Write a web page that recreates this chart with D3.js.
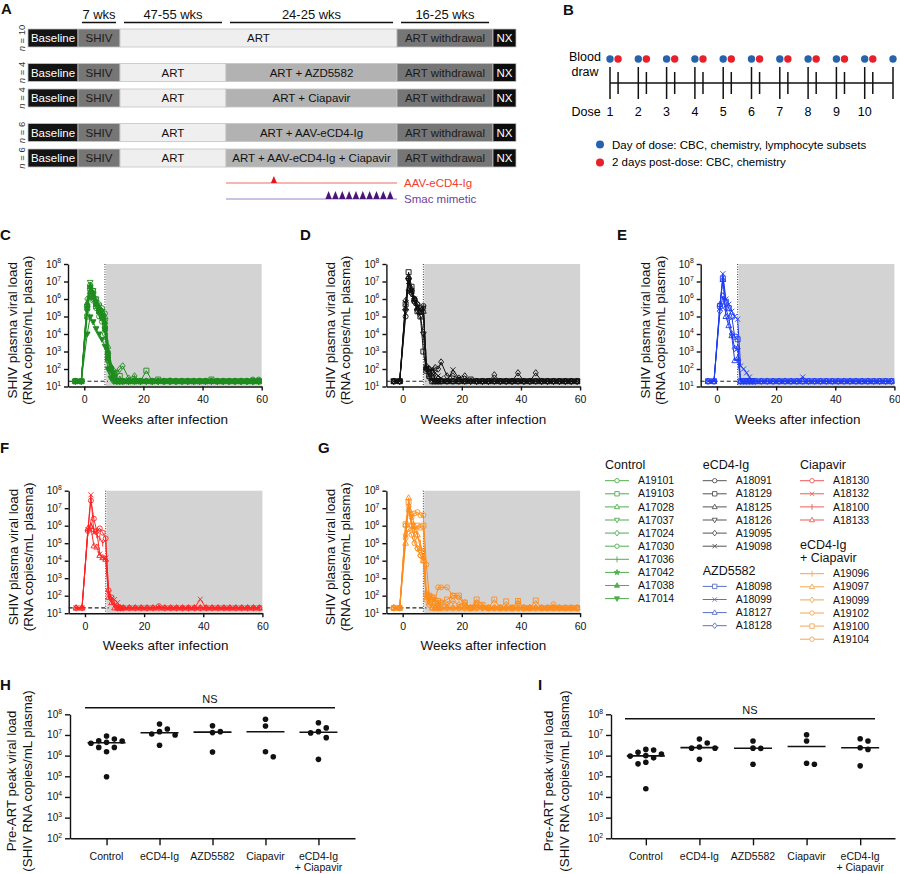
<!DOCTYPE html>
<html>
<head>
<meta charset="utf-8">
<script src="https://cdn.jsdelivr.net/npm/d3@7"></script>
<style>
body{margin:0;background:#fff;}
svg{display:block;font-family:"Liberation Sans",Arial,Helvetica,sans-serif;}
</style>
</head>
<body>
<svg id="fig" width="900" height="874"></svg>
<script>
// ---------- data: panel A (study design) ----------
const phaseLabels = ["7 wks", "47-55 wks", "24-25 wks", "16-25 wks"];
const rowN = [10, 4, 4, 6, 6];
const rowGroup = [0, 1, 1, 2, 2];
const rowTreatment = [null, "ART + AZD5582", "ART + Ciapavir", "ART + AAV-eCD4-Ig", "ART + AAV-eCD4-Ig + Ciapavir"];
const aavDoseWeeks = [7];
const smacDoseWeeks = [15, 16, 17, 18, 19, 20, 21, 22, 23, 24];

// ---------- data: panel B (dosing schedule, days) ----------
const doseNumbers = [1, 2, 3, 4, 5, 6, 7, 8, 9, 10];
const doseDays = [0, 7, 14, 21, 28, 35, 42, 49, 56, 63, 70];
const postDoseDays = [2, 9, 16, 23, 30, 37, 44, 51, 58, 65];

// ---------- data: panels C-G (viral load, RNA copies/mL) ----------
const weeks = [-3, -1, 1, 2, 3, 4, 5, 6, 7, 8, 9, 10, 11, 12, 13, 15, 17, 19, 21, 23, 25, 27, 29, 31, 33, 35, 37, 39, 41, 43, 45, 47, 49, 51, 53, 55, 57, 59];

const controlIds = ["A19101", "A19103", "A17028", "A17037", "A17024", "A17030", "A17036", "A17042", "A17038", "A17014"];
const controlMarkers = ["circle", "square", "triangle", "triangleDown", "diamond", "circle", "vline", "star", "triangleFilled", "triangleDownFilled"];
const controlVL = [
  [20,20, 3e5,6.3e6,3e6,1e6,5e5,3e5,1.5e5,800,120,40,20,20,20, 20,20,20,20,20,20,20,22, 20,20,20,20,20,20,20,20, 20,20,20,20,20,20,25],
  [20,20, 1e5,4e6,2e6,4e5,2e5,1e5,2e4,400,100,60,20,40,20, 20,20,20,80,20,25,20,20, 20,20,20,20,20,20,25,20, 20,20,20,20,20,20,20],
  [20,20, 5e5,5.1e6,1.5e6,6e5,3e5,2e5,1e5,2e3,150,60,20,20,20, 20,20,20,20,20,20,20,20, 20,20,20,20,20,20,20,20, 20,20,20,20,20,20,20],
  [20,20, 2e5,8.9e6,3e6,1e6,4e5,2e5,5e4,500,80,30,20,20,20, 20,20,20,20,20,20,20,20, 20,20,20,20,20,20,20,20, 20,20,20,20,20,20,20],
  [20,20, 1e6,2.5e6,1e6,5e5,3e5,1e5,3e4,1e3,100,80,60,100,150, 30,40,20,20,20,20,20,20, 20,20,20,20,20,20,20,20, 20,20,20,20,20,20,20],
  [20,20, 4e5,1.5e6,8e5,3e5,1e5,5e4,1e4,300,60,20,20,20,20, 20,20,20,20,20,20,20,20, 20,20,20,20,20,20,20,20, 20,20,20,20,20,25,20],
  [20,20, 8e5,4.4e6,2e6,8e5,4e5,2e5,1e5,3e3,200,50,20,20,20, 20,30,20,20,20,20,20,20, 20,20,20,20,20,20,20,20, 20,20,20,20,20,20,20],
  [20,20, 3e5,5.2e6,2e6,7e5,2e5,8e4,2e4,400,90,30,20,20,20, 20,20,20,20,20,20,20,20, 20,20,20,20,20,20,20,20, 20,20,20,20,20,20,20],
  [20,20, 6e5,2.5e6,1.2e6,5e5,2e5,1e5,5e4,1e3,150,40,20,20,20, 20,20,20,20,20,20,20,20, 20,20,20,20,20,20,20,20, 20,20,20,20,20,20,20],
  [20,20, 1e4,9.5e4,5e4,2e4,1e4,5e3,2e3,100,30,20,20,20,20, 20,20,20,20,20,20,20,20, 20,20,20,20,20,20,20,20, 20,20,20,20,20,20,20]
];

const ecd4Ids = ["A18091", "A18129", "A18125", "A18126", "A19095", "A19098"];
const ecd4Markers = ["circle", "square", "triangle", "triangleDown", "diamond", "times"];
const ecd4VL = [
  [20,20, 1e5,1.45e7,3e6,1e6,5e5,3e5,4e5,100,60,30,20,20,20, 20,20,20,20,20,20,20,20, 20,20,20,20,20,20,20,20, 20,20,20,20,20,20,20],
  [20,20, 5e5,3.4e7,5e6,8e5,2e5,1e5,1e3,80,40,20,20,20,20, 20,20,20,20,25,20,20,20, 20,20,20,20,20,20,20,20, 20,20,20,20,20,20,20],
  [20,20, 3e5,1.95e7,4e6,1e6,3e5,2e5,2e5,120,100,60,30,20,20, 20,20,20,20,20,20,20,20, 20,20,20,20,20,20,20,20, 20,20,20,20,20,20,20],
  [20,20, 2e5,1.12e7,2e6,6e5,2e5,1e5,1e4,100,30,20,20,20,20, 20,20,20,20,20,20,20,20, 20,20,20,20,20,20,20,20, 20,20,20,20,20,20,20],
  [20,20, 8e5,3.2e6,2e6,1e6,5e5,2e5,3e5,150,100,80,120,100,250, 40,40,30,40,20,20,20,20, 46,20,20,20,60,20,20,60, 20,20,20,20,20,20,20],
  [20,20, 6e5,1e7,3e6,1e6,4e5,2e5,3e5,120,80,100,60,40,30, 20,90,30,20,20,20,20,20, 20,20,20,20,20,20,20,20, 20,20,20,20,20,20,20]
];

const azdIds = ["A18098", "A18099", "A18127", "A18128"];
const azdMarkers = ["square", "times", "triangle", "diamond"];
const azdVL = [
  [20,20, 4e5,1.45e7,7e5,3e5,1e5,7e3,5e3,20,20,20,20,20,20, 20,20,20,20,20,20,20,20, 20,20,20,20,20,20,20,20, 20,20,20,20,20,20,20],
  [20,20, 3e5,2.8e7,1e6,5e5,2e5,1e5,7e4,150,100,60,35,20,20, 20,20,20,20,20,20,20,35, 20,20,20,20,20,20,20,20, 20,20,20,20,20,20,20],
  [20,20, 5e5,1.3e7,1e5,3e4,8e3,300,400,20,20,20,20,20,20, 20,20,20,20,20,20,20,20, 20,20,20,20,20,20,20,20, 20,20,20,20,20,20,20],
  [20,20, 2e5,1.5e6,3e5,8e4,1e4,1.5e3,1.5e3,20,20,20,20,20,20, 20,20,20,20,20,20,20,20, 20,20,20,20,20,20,20,20, 20,20,20,20,20,20,20]
];

const ciaIds = ["A18130", "A18132", "A18100", "A18133"];
const ciaMarkers = ["circle", "times", "vline", "triangle"];
const ciaVL = [
  [20,20, 5e5,2.7e7,2.5e6,5e5,7e5,4e5,1.9e5,200,80,40,20,20,20, 20,20,20,20,20,25,20,20, 20,20,20,20,20,20,20,20, 20,20,20,20,20,20,20],
  [20,20, 6e5,5.8e7,4e5,5e5,2.4e4,1.5e4,1.4e4,150,70,60,40,20,20, 20,20,20,20,20,20,20,20, 20,20,20,20,63,20,20,20, 20,20,20,20,20,20,20],
  [20,20, 4e5,1.5e6,5e5,3e5,2e5,1e5,1.5e5,100,50,30,20,20,20, 20,20,20,20,20,20,20,20, 20,20,20,20,20,20,20,20, 20,20,20,20,20,20,20],
  [20,20, 7e5,9e5,7e4,6e4,2e4,1.5e4,1.2e4,80,40,20,20,20,20, 20,20,20,20,20,20,20,20, 20,20,20,20,20,20,20,20, 20,20,20,20,20,20,20]
];

const comboIds = ["A19096", "A19097", "A19099", "A19102", "A19100", "A19104"];
const comboMarkers = ["vline", "triangle", "diamond", "circle", "square", "circle"];
const comboVL = [
  [20,20, 8e5,1.45e7,2e6,5e5,3e5,1e5,1.2e4,100,60,40,30,20,20, 20,20,20,20,20,20,20,20, 20,20,20,20,20,20,20,20, 20,20,20,20,20,20,20],
  [20,20, 1e5,3.9e7,5e6,1e6,3e5,5e4,1e4,80,40,20,20,20,20, 20,20,20,20,20,20,25,20, 20,20,20,20,20,20,20,20, 20,20,20,20,20,20,20],
  [20,20, 3e5,1.26e7,1e6,2e5,5e4,2e4,1.5e4,120,80,60,40,30,40, 30,50,30,40,20,30,20,20, 20,20,20,20,40,20,20,20, 20,20,20,20,20,20,20],
  [20,20, 1e6,7.4e6,3e6,5e6,6e6,4e6,4e6,6e3,100,80,60,300,300, 300,100,80,30,20,40,20,20, 20,20,20,20,20,20,20,20, 20,20,32,20,20,20,20],
  [20,20, 1.2e6,2.2e7,1e6,6e5,1e6,8e5,1e6,130,100,80,40,50,40, 60,100,100,40,20,60,30,20, 60,20,47,20,50,20,20,53, 20,20,20,20,20,20,20],
  [20,20, 2e5,6.6e5,3e5,1e5,5e4,2e4,1e4,60,30,20,20,20,20, 20,20,20,20,20,20,20,20, 20,20,20,20,20,20,20,20, 20,20,20,20,20,20,20]
];

// ---------- data: panels H, I (pre-ART peak viral load) ----------
const peakCats = [["Control"], ["eCD4-Ig"], ["AZD5582"], ["Ciapavir"], ["eCD4-Ig", "+ Ciapavir"]];
const peakH = [
  [6.3e6, 4.0e6, 5.1e6, 8.9e6, 2.5e6, 1.55e6, 9.5e4, 4.4e6, 5.2e6, 2.5e6],
  [1.45e7, 3.4e7, 1.95e7, 1.12e7, 3.2e6, 1.0e7],
  [1.45e7, 2.8e7, 1.3e7, 1.5e6],
  [5.8e7, 2.7e7, 8.9e5, 1.55e6],
  [3.9e7, 2.2e7, 1.45e7, 1.26e7, 7.4e6, 6.6e5]
];
const peakI = [
  [1.2e6, 1.86e6, 2.0e6, 1.45e6, 4.8e5, 4.0e5, 7.8e5, 2.5e4, 9.5e5, 1.0e6],
  [6.3e6, 4.1e6, 2.6e6, 2.3e6, 2.3e6, 6.6e5],
  [5.1e6, 2.24e6, 2.3e6, 3.8e5],
  [1.02e7, 5.1e6, 3.8e5, 4.3e5],
  [6.6e6, 5.1e6, 2.4e6, 2.0e6, 3.2e5]
];

// ---------- drawing ----------
const svg = d3.select("#fig");
svg.append("rect").attr("width", 900).attr("height", 874).attr("fill", "#fff");

function letter(t, x, y) {
  svg.append("text").attr("x", x).attr("y", y).attr("font-size", 15).attr("font-weight", "bold").attr("fill", "#111").text(t);
}

// ===== Panel A =====
letter("A", 1, 14);
const aEdges = [28, 78, 120, 226, 397, 493, 516];
const aStyle = {
  base: {fill: "#141414", text: "#fff"},
  shiv: {fill: "#767676", text: "#1c1c1c"},
  art: {fill: "#efefef", text: "#111"},
  trt: {fill: "#b2b2b2", text: "#111"},
  wd: {fill: "#767676", text: "#1c1c1c"},
  nx: {fill: "#0d0d0d", text: "#fff"}
};
phaseLabels.forEach((lab, i) => {
  const x1 = aEdges[i + 1] + 4, x2 = aEdges[i + 2] - 4;
  svg.append("text").attr("x", (x1 + x2) / 2).attr("y", 19).attr("text-anchor", "middle")
    .attr("font-size", 13).attr("fill", "#111").text(lab);
  svg.append("line").attr("x1", x1).attr("x2", x2).attr("y1", 22.5).attr("y2", 22.5)
    .attr("stroke", "#111").attr("stroke-width", 1.5);
});
rowN.forEach((n, i) => {
  const y = 29 + i * 25.5 + rowGroup[i] * 9, h = 18;
  const segs = rowTreatment[i] ? [
    ["base", 0, 1, "Baseline"], ["shiv", 1, 2, "SHIV"], ["art", 2, 3, "ART"],
    ["trt", 3, 4, rowTreatment[i]], ["wd", 4, 5, "ART withdrawal"], ["nx", 5, 6, "NX"]
  ] : [
    ["base", 0, 1, "Baseline"], ["shiv", 1, 2, "SHIV"], ["art", 2, 4, "ART"],
    ["wd", 4, 5, "ART withdrawal"], ["nx", 5, 6, "NX"]
  ];
  const g = svg.append("g");
  g.selectAll("rect").data(segs).enter().append("rect")
    .attr("x", d => aEdges[d[1]]).attr("y", y)
    .attr("width", d => aEdges[d[2]] - aEdges[d[1]]).attr("height", h)
    .attr("fill", d => aStyle[d[0]].fill).attr("stroke", "#c4c4c4").attr("stroke-width", 0.8);
  g.selectAll("text.seg").data(segs).enter().append("text").attr("class", "seg")
    .attr("x", d => (aEdges[d[1]] + aEdges[d[2]]) / 2).attr("y", y + h / 2).attr("dy", "0.36em")
    .attr("text-anchor", "middle").attr("font-size", 11.5)
    .attr("fill", d => aStyle[d[0]].text).text(d => d[3]);
  const t = g.append("text").attr("transform", `translate(25,${y + h / 2}) rotate(-90)`)
    .attr("text-anchor", "middle").attr("font-size", 9.5).attr("fill", "#333");
  t.append("tspan").attr("font-style", "italic").text("n");
  t.append("tspan").text(" = " + n);
});
// dosing annotation under panel A
const tx = d3.scaleLinear().domain([0, 25]).range([aEdges[3], aEdges[4]]);
svg.append("line").attr("x1", tx(0)).attr("x2", tx(25)).attr("y1", 183).attr("y2", 183)
  .attr("stroke", "#f06a6a").attr("stroke-width", 1.2);
svg.selectAll("path.aav").data(aavDoseWeeks).enter().append("path").attr("class", "aav")
  .attr("d", d => `M${tx(d) - 3},183L${tx(d)},176L${tx(d) + 3},183Z`).attr("fill", "#e8141c");
svg.append("text").attr("x", 404).attr("y", 187).attr("font-size", 11.5).attr("fill", "#f0402e").text("AAV-eCD4-Ig");
svg.append("line").attr("x1", tx(0)).attr("x2", tx(25)).attr("y1", 199).attr("y2", 199)
  .attr("stroke", "#9c83c8").attr("stroke-width", 1.2);
svg.selectAll("path.smac").data(smacDoseWeeks).enter().append("path").attr("class", "smac")
  .attr("d", d => `M${tx(d) - 3.2},199L${tx(d)},191L${tx(d) + 3.2},199Z`).attr("fill", "#4a1577");
svg.append("text").attr("x", 404).attr("y", 203).attr("font-size", 11.5).attr("fill", "#6b3fa0").text("Smac mimetic");

// ===== Panel B =====
letter("B", 563, 15);
const bx = d3.scaleLinear().domain([0, 70]).range([610, 893]);
svg.append("text").attr("x", 585).attr("y", 61).attr("text-anchor", "middle").attr("font-size", 12.5).text("Blood");
svg.append("text").attr("x", 585).attr("y", 76).attr("text-anchor", "middle").attr("font-size", 12.5).text("draw");
svg.append("text").attr("x", 586).attr("y", 116).attr("text-anchor", "middle").attr("font-size", 12.5).text("Dose");
svg.append("line").attr("x1", bx(0)).attr("x2", bx(70)).attr("y1", 83).attr("y2", 83).attr("stroke", "#111").attr("stroke-width", 1.5);
svg.selectAll("line.dt").data(doseDays).enter().append("line").attr("class", "dt")
  .attr("x1", d => bx(d)).attr("x2", d => bx(d)).attr("y1", 67).attr("y2", 99).attr("stroke", "#111").attr("stroke-width", 1.5);
svg.selectAll("line.pt").data(postDoseDays).enter().append("line").attr("class", "pt")
  .attr("x1", d => bx(d)).attr("x2", d => bx(d)).attr("y1", 72).attr("y2", 94).attr("stroke", "#111").attr("stroke-width", 1.5);
svg.selectAll("circle.bd").data(doseDays).enter().append("circle").attr("class", "bd")
  .attr("cx", d => bx(d)).attr("cy", 59).attr("r", 3.7).attr("fill", "#2563ad");
svg.selectAll("circle.rd").data(postDoseDays).enter().append("circle").attr("class", "rd")
  .attr("cx", d => bx(d)).attr("cy", 59).attr("r", 3.7).attr("fill", "#e8202a");
svg.selectAll("text.dn").data(doseNumbers).enter().append("text").attr("class", "dn")
  .attr("x", (d, i) => bx(doseDays[i])).attr("y", 116).attr("text-anchor", "middle").attr("font-size", 12.5).text(d => d);
svg.append("circle").attr("cx", 600).attr("cy", 144.5).attr("r", 4).attr("fill", "#2563ad");
svg.append("text").attr("x", 612).attr("y", 149).attr("font-size", 11.5).text("Day of dose: CBC, chemistry, lymphocyte subsets");
svg.append("circle").attr("cx", 600).attr("cy", 162.5).attr("r", 4).attr("fill", "#e8202a");
svg.append("text").attr("x", 612).attr("y", 166).attr("font-size", 11.5).text("2 days post-dose: CBC, chemistry");

// ===== markers =====
function markerPath(type, r) {
  const p = d3.path();
  if (type === "circle") { p.moveTo(r, 0); p.arc(0, 0, r, 0, 2 * Math.PI); }
  else if (type === "square") { p.rect(-r, -r, 2 * r, 2 * r); }
  else if (type === "triangle" || type === "triangleFilled") {
    p.moveTo(0, -r * 1.25); p.lineTo(r * 1.15, r * 0.8); p.lineTo(-r * 1.15, r * 0.8); p.closePath();
  } else if (type === "triangleDown" || type === "triangleDownFilled") {
    p.moveTo(0, r * 1.25); p.lineTo(r * 1.15, -r * 0.8); p.lineTo(-r * 1.15, -r * 0.8); p.closePath();
  } else if (type === "diamond") {
    p.moveTo(0, -r * 1.3); p.lineTo(r, 0); p.lineTo(0, r * 1.3); p.lineTo(-r, 0); p.closePath();
  } else if (type === "times") {
    p.moveTo(-r, -r); p.lineTo(r, r); p.moveTo(r, -r); p.lineTo(-r, r);
  } else if (type === "vline") {
    p.moveTo(0, -r * 1.35); p.lineTo(0, r * 1.35);
  } else if (type === "star") {
    for (let i = 0; i < 10; i++) {
      const a = -Math.PI / 2 + i * Math.PI / 5, rr = i % 2 ? r * 0.55 : r * 1.3;
      if (i === 0) p.moveTo(rr * Math.cos(a), rr * Math.sin(a)); else p.lineTo(rr * Math.cos(a), rr * Math.sin(a));
    }
    p.closePath();
  }
  return p.toString();
}
const isFilled = t => t.endsWith("Filled") || t === "star";

function supLabel(g, x, y, e, fs, anchor) {
  const t = g.append("text").attr("x", x).attr("y", y).attr("dy", "0.35em")
    .attr("text-anchor", anchor).attr("font-size", fs).attr("fill", "#111");
  t.append("tspan").text("10");
  t.append("tspan").attr("dy", -fs * 0.42).attr("font-size", fs * 0.68).text(e);
}

// ===== Panels C-G =====
const groups = [
  {name: ["Control"], ids: controlIds, markers: controlMarkers, vl: controlVL, color: "#1e8c1e", legend: "#4fae4f"},
  {name: ["eCD4-Ig"], ids: ecd4Ids, markers: ecd4Markers, vl: ecd4VL, color: "#111111", legend: "#555555"},
  {name: ["AZD5582"], ids: azdIds, markers: azdMarkers, vl: azdVL, color: "#1f3cf5", legend: "#5b70c8"},
  {name: ["Ciapavir"], ids: ciaIds, markers: ciaMarkers, vl: ciaVL, color: "#ff2424", legend: "#f05a5a"},
  {name: ["eCD4-Ig", "+ Ciapavir"], ids: comboIds, markers: comboMarkers, vl: comboVL, color: "#ff8c1a", legend: "#f5a658"}
];
const vlPanels = [
  {letter: "C", lx: 0, ly: 240, x0: 68, y0: 264, gi: 0},
  {letter: "D", lx: 300, ly: 240, x0: 386.4, y0: 264, gi: 1},
  {letter: "E", lx: 617, ly: 240, x0: 700.7, y0: 264, gi: 2},
  {letter: "F", lx: 0, ly: 453, x0: 68.7, y0: 490.7, gi: 3},
  {letter: "G", lx: 318, ly: 453, x0: 386.4, y0: 490.7, gi: 4}
];
const PW = 193.7, PH = 122.5;

vlPanels.forEach(p => {
  letter(p.letter, p.lx, p.ly);
  const grp = groups[p.gi];
  const x = d3.scaleLinear().domain([-5.5, 60]).range([p.x0, p.x0 + PW]);
  const y = d3.scaleLog().domain([10, 1e8]).range([p.y0 + PH, p.y0]);
  const g = svg.append("g");
  g.append("rect").attr("x", x(7.3)).attr("y", y(1e8)).attr("width", x(60) - x(7.3))
    .attr("height", y(10) - y(1e8)).attr("fill", "#d3d3d3");
  g.append("line").attr("x1", x(7)).attr("x2", x(7)).attr("y1", y(1e8)).attr("y2", y(10))
    .attr("stroke", "#333").attr("stroke-width", 1).attr("stroke-dasharray", "1,1.5");
  g.append("line").attr("x1", x(-5.5)).attr("x2", x(8)).attr("y1", y(20)).attr("y2", y(20))
    .attr("stroke", "#222").attr("stroke-width", 1.2).attr("stroke-dasharray", "4,2.5");
  const line = d3.line().x((d, i) => x(weeks[i])).y(d => y(d));
  grp.vl.forEach(vals => {
    g.append("path").attr("d", line(vals)).attr("fill", "none").attr("stroke", grp.color).attr("stroke-width", 1);
  });
  grp.vl.forEach((vals, k) => {
    const m = grp.markers[k];
    g.append("g").selectAll("path").data(vals).enter().append("path")
      .attr("transform", (d, i) => `translate(${x(weeks[i])},${y(d)})`)
      .attr("d", markerPath(m, 2.5))
      .attr("fill", isFilled(m) ? grp.color : "none")
      .attr("stroke", grp.color).attr("stroke-width", 0.9);
  });
  // axes
  const ax = g.append("g").attr("transform", `translate(0,${p.y0 + PH})`)
    .call(d3.axisBottom(x).tickValues([0, 20, 40, 60]).tickSize(4).tickSizeOuter(0));
  ax.selectAll("text").attr("font-size", 10.5).attr("font-family", null).attr("fill", "#111").attr("dy", "0.9em");
  ax.selectAll("path,line").attr("stroke", "#111").attr("stroke-width", 1.4);
  const decs = [1, 2, 3, 4, 5, 6, 7, 8];
  const ay = g.append("g").attr("transform", `translate(${p.x0},0)`)
    .call(d3.axisLeft(y).tickValues(decs.map(e => Math.pow(10, e))).tickSize(4).tickSizeOuter(0).tickFormat(() => ""));
  ay.selectAll("path,line").attr("stroke", "#111").attr("stroke-width", 1.4);
  decs.forEach(e => supLabel(g, p.x0 - 7, y(Math.pow(10, e)), e, 10, "end"));
  g.append("text").attr("x", p.x0 + 97).attr("y", p.y0 + PH + 37).attr("text-anchor", "middle")
    .attr("font-size", 13.5).attr("fill", "#111").text("Weeks after infection");
  const cy = p.y0 + PH / 2 + 5;
  g.append("text").attr("transform", `translate(${p.x0 - 51},${cy}) rotate(-90)`).attr("text-anchor", "middle")
    .attr("font-size", 13.5).attr("fill", "#111").text("SHIV plasma viral load");
  g.append("text").attr("transform", `translate(${p.x0 - 36},${cy}) rotate(-90)`).attr("text-anchor", "middle")
    .attr("font-size", 13.5).attr("fill", "#111").text("(RNA copies/mL plasma)");
});

// ===== Legend =====
const legendCols = [{x: 605, gis: [0]}, {x: 702.7, gis: [1, 2]}, {x: 800, gis: [3, 4]}];
legendCols.forEach(col => {
  let yy = 465;
  col.gis.forEach(gi => {
    const grp = groups[gi];
    grp.name.forEach((ln, j) => {
      svg.append("text").attr("x", col.x).attr("y", yy + j * 13.5).attr("dy", "0.35em")
        .attr("font-size", 12.5).attr("fill", "#111").text(ln);
    });
    let ey = yy + (grp.name.length - 1) * 13.5 + 15.7;
    grp.ids.forEach((id, k) => {
      const m = grp.markers[k];
      svg.append("line").attr("x1", col.x).attr("x2", col.x + 24).attr("y1", ey).attr("y2", ey)
        .attr("stroke", grp.legend).attr("stroke-width", 1);
      svg.append("path").attr("transform", `translate(${col.x + 12},${ey})`).attr("d", markerPath(m, 2.2))
        .attr("fill", isFilled(m) ? grp.legend : "#fff").attr("stroke", grp.legend).attr("stroke-width", 0.9);
      svg.append("text").attr("x", col.x + 33).attr("y", ey).attr("dy", "0.35em")
        .attr("font-size", 10.5).attr("fill", "#111").text(id);
      ey += 13.1;
    });
    yy = ey - 13.1 + 24.5;
  });
});

// ===== Panels H, I =====
function swarm(vals, y, r, step) {
  const pts = vals.map(v => ({v: v, py: y(v)})).sort((a, b) => a.py - b.py);
  const placed = [];
  pts.forEach(pt => {
    for (let k = 0; k < 30; k++) {
      const off = k === 0 ? 0 : (k % 2 ? 1 : -1) * Math.ceil(k / 2) * step;
      if (placed.every(q => Math.hypot(q.off - off, q.py - pt.py) >= 2 * r + 0.6)) {
        pt.off = off; placed.push(pt); break;
      }
    }
  });
  return pts;
}

const peakPanels = [
  {letter: "H", lx: 0, ly: 690, x0: 70, x1: 355, pad: 0.69, nsY: 707.7, nsX: [85, 335], data: peakH, t1: 16, t2: 32},
  {letter: "I", lx: 538, ly: 690, x0: 611, x1: 895, pad: 0.65, nsY: 718.7, nsX: [625, 875], data: peakI, t1: 553, t2: 569}
];
peakPanels.forEach(p => {
  letter(p.letter, p.lx, p.ly);
  const g = svg.append("g");
  const y = d3.scaleLog().domain([1e2, 1e8]).range([838.3, 714.3]);
  const x = d3.scalePoint().domain(d3.range(peakCats.length)).range([p.x0, p.x1]).padding(p.pad);
  const ax = g.append("g").attr("transform", "translate(0,838.3)")
    .call(d3.axisBottom(x).tickSize(7).tickSizeOuter(0).tickFormat(() => ""));
  ax.selectAll("path,line").attr("stroke", "#111").attr("stroke-width", 1.4);
  peakCats.forEach((lines, i) => {
    lines.forEach((ln, j) => {
      g.append("text").attr("x", x(i)).attr("y", 860 + j * 10.5).attr("text-anchor", "middle")
        .attr("font-size", 10.5).attr("fill", "#111").text(ln);
    });
  });
  const decs = [2, 3, 4, 5, 6, 7, 8];
  const ay = g.append("g").attr("transform", `translate(${p.x0},0)`)
    .call(d3.axisLeft(y).tickValues(decs.map(e => Math.pow(10, e))).tickSize(5).tickSizeOuter(0).tickFormat(() => ""));
  ay.selectAll("path,line").attr("stroke", "#111").attr("stroke-width", 1.4);
  decs.forEach(e => supLabel(g, p.x0 - 8, y(Math.pow(10, e)), e, 10, "end"));
  // NS bar
  g.append("line").attr("x1", p.nsX[0]).attr("x2", p.nsX[1]).attr("y1", p.nsY).attr("y2", p.nsY)
    .attr("stroke", "#111").attr("stroke-width", 1.4);
  g.append("text").attr("x", (p.nsX[0] + p.nsX[1]) / 2).attr("y", p.nsY - 5).attr("text-anchor", "middle")
    .attr("font-size", 11).attr("fill", "#111").text("NS");
  // dots + medians
  p.data.forEach((vals, i) => {
    const pts = swarm(vals, y, 2.8, 7.8);
    g.append("g").selectAll("circle").data(pts).enter().append("circle")
      .attr("cx", d => x(i) + d.off).attr("cy", d => d.py).attr("r", 2.8).attr("fill", "#111");
    const med = d3.median(vals);
    g.append("line").attr("x1", x(i) - 19).attr("x2", x(i) + 19).attr("y1", y(med)).attr("y2", y(med))
      .attr("stroke", "#111").attr("stroke-width", 1.6);
  });
  const cy = 781;
  g.append("text").attr("transform", `translate(${p.t1},${cy}) rotate(-90)`).attr("text-anchor", "middle")
    .attr("font-size", 13.3).attr("fill", "#111").text("Pre-ART peak viral load");
  g.append("text").attr("transform", `translate(${p.t2},${cy}) rotate(-90)`).attr("text-anchor", "middle")
    .attr("font-size", 13.3).attr("fill", "#111").text("(SHIV RNA copies/mL plasma)");
});
</script>
</body>
</html>
